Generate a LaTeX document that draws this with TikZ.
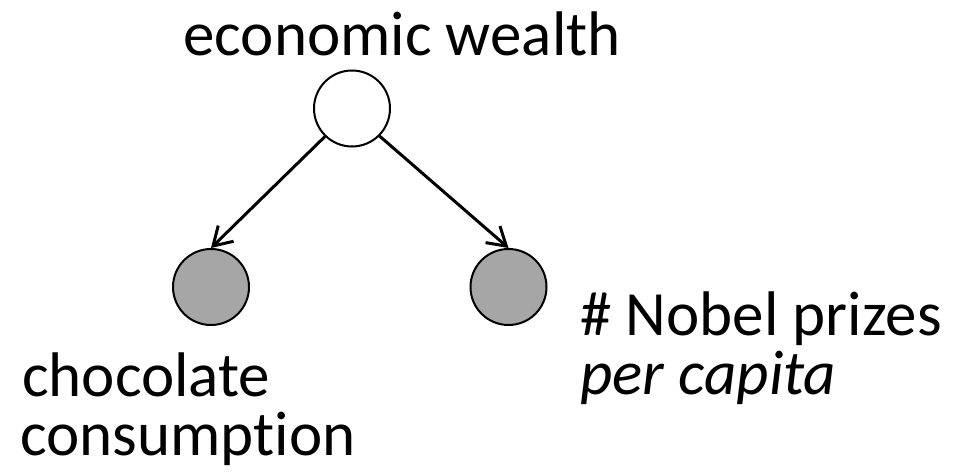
\documentclass[tikz,border=0pt]{standalone}
\usepackage{fontspec}
\setmainfont{Carlito}[Ligatures=NoCommon]
\usetikzlibrary{arrows.meta}
\begin{document}
\begin{tikzpicture}[x=1pt,y=-1pt,
  var/.style={circle,draw=black,line width=2pt,minimum size=76pt,inner sep=0pt},
  obs/.style={var,fill=gray!70},
  lbl/.style={font=\fontsize{63}{70}\selectfont,inner sep=0pt},
  causal/.style={draw=black,line width=3pt,arrows={-Straight Barb[length=18pt,width=22pt]}}]
\useasboundingbox (0,0) rectangle (976,471);
\node[var] (w) at (352,108.5) {};
\node[obs] (c) at (211,287) {};
\node[obs] (n) at (508.5,287) {};
\path[causal] (w.226) -- (c.north);
\path[causal] (w.-45) -- (n.north);
\node[lbl,anchor=base] (tw) at (402,55) {economic wealth};
\node[lbl,anchor=base west] (tc1) at (22,396) {chocolate};
\node[lbl,anchor=base west] (tc2) at (20,455) {consumption};
\node[lbl,anchor=base west] (tn1) at (580,335) {\# Nobel prizes};
\node[lbl,anchor=base west] (tn2) at (580,394) {\itshape per capita};
\end{tikzpicture}
\end{document}
